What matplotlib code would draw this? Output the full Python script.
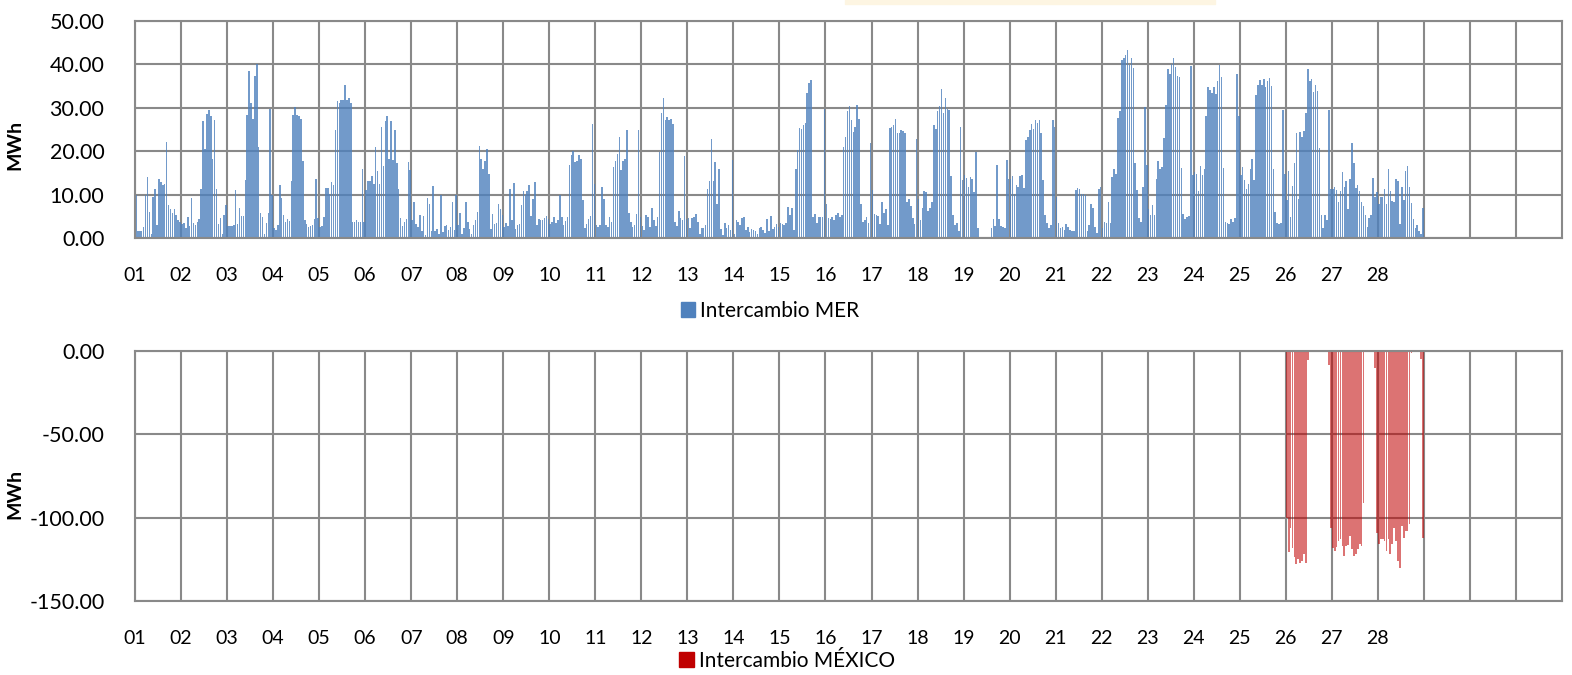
import matplotlib
matplotlib.use("Agg")
import matplotlib.pyplot as plt
from matplotlib.patches import Patch, Rectangle
import numpy as np

plt.rcParams['font.family'] = ['Lato', 'DejaVu Sans']

# Intercambio MER, MWh por hora (24 valores por dia, 01..28)
mer_horas = [
    [9.8, 1.5, 1.5, 1.5, 2.5, 9.8, 14.0, 6.0, 1.0, 9.5, 11.2, 2.9, 13.7, 12.8, 12.2, 12.4, 22.2, 7.5, 6.6, 5.8, 6.6, 5.4, 4.1, 3.8],
    [3.3, 3.5, 2.3, 4.8, 2.8, 9.2, 3.5, 2.9, 3.7, 4.3, 11.4, 27.0, 20.6, 28.6, 29.6, 28.2, 18.2, 27.1, 11.2, 3.3, 4.5, 1.0, 5.2, 7.7],
    [2.8, 2.8, 2.8, 2.9, 11.0, 3.2, 6.9, 5.1, 5.1, 13.4, 28.3, 38.5, 31.1, 27.4, 37.3, 40.0, 21.0, 5.8, 4.8, 1.0, 3.5, 5.8, 29.7, 9.8],
    [2.3, 1.8, 2.9, 12.2, 9.2, 5.4, 3.8, 4.3, 4.0, 13.2, 28.3, 30.2, 28.3, 28.2, 27.4, 17.7, 4.1, 3.3, 2.5, 2.8, 3.1, 4.3, 13.5, 4.6],
    [2.5, 2.8, 4.8, 11.5, 11.5, 10.2, 12.9, 12.3, 24.8, 31.5, 31.0, 31.8, 31.8, 35.2, 31.8, 32.2, 31.2, 3.7, 3.7, 4.2, 3.8, 3.7, 15.8, 3.8],
    [11.0, 13.2, 13.2, 14.2, 12.5, 21.0, 15.4, 12.5, 25.6, 16.6, 27.0, 28.2, 18.2, 27.0, 18.0, 25.0, 17.2, 11.2, 4.6, 2.8, 3.8, 4.3, 17.4, 15.7],
    [4.1, 8.2, 3.3, 2.5, 5.2, 1.5, 5.0, 0.8, 9.2, 7.8, 1.5, 11.9, 1.5, 2.0, 1.0, 9.8, 1.4, 2.8, 3.1, 1.8, 2.6, 8.3, 1.8, 10.0],
    [2.9, 5.8, 1.0, 2.2, 8.2, 3.7, 2.0, 1.0, 2.9, 4.1, 6.0, 21.2, 18.2, 15.8, 17.7, 20.5, 14.8, 2.0, 5.6, 3.3, 3.5, 7.9, 6.6, 5.4],
    [2.5, 3.5, 2.8, 11.2, 4.2, 12.7, 2.0, 3.1, 3.3, 7.5, 10.8, 9.8, 10.8, 12.3, 5.1, 9.1, 12.8, 3.1, 4.3, 4.1, 4.1, 4.6, 5.0, 4.3],
    [3.3, 3.8, 4.9, 3.5, 4.2, 10.0, 4.9, 3.1, 4.0, 4.8, 16.8, 19.1, 20.0, 17.4, 17.7, 19.1, 18.3, 8.7, 2.2, 3.3, 4.3, 5.1, 26.2, 12.5],
    [3.1, 2.5, 2.9, 11.7, 9.1, 3.1, 2.5, 4.8, 3.7, 16.4, 17.7, 19.4, 23.3, 15.6, 17.7, 18.3, 24.8, 5.8, 3.7, 2.5, 3.1, 5.6, 24.8, 4.8],
    [2.8, 1.8, 5.2, 4.8, 2.5, 6.9, 4.1, 2.8, 4.8, 19.8, 28.7, 32.3, 27.2, 27.8, 27.1, 27.5, 26.3, 3.8, 2.8, 6.2, 4.6, 4.1, 18.8, 4.3],
    [4.6, 2.3, 4.6, 4.8, 5.6, 3.8, 1.0, 2.2, 2.2, 2.9, 11.4, 13.1, 22.9, 13.1, 17.5, 7.9, 15.8, 2.0, 0.8, 3.5, 2.3, 2.9, 1.8, 17.9],
    [1.0, 4.1, 3.8, 3.1, 4.5, 4.8, 1.8, 2.5, 1.4, 2.0, 1.8, 1.5, 1.0, 2.2, 2.5, 1.8, 1.2, 4.3, 1.5, 5.0, 2.0, 2.5, 3.3, 2.5],
    [3.5, 3.3, 2.9, 3.4, 7.2, 5.4, 6.9, 1.8, 15.8, 20.2, 25.4, 25.1, 26.0, 26.4, 33.3, 35.8, 36.4, 4.8, 5.6, 3.5, 4.8, 4.8, 4.8, 29.7],
    [7.9, 4.7, 4.3, 4.8, 4.1, 5.2, 5.8, 4.8, 5.2, 21.0, 23.3, 29.2, 30.5, 27.2, 24.5, 25.6, 30.6, 27.5, 7.9, 3.7, 4.1, 4.8, 3.5, 21.9],
    [11.0, 5.6, 5.2, 5.1, 3.3, 8.2, 5.8, 6.6, 3.1, 25.4, 25.6, 26.0, 27.4, 24.1, 24.1, 24.8, 24.6, 24.3, 8.2, 8.9, 7.4, 4.6, 3.3, 22.9],
    [8.9, 4.1, 6.8, 10.8, 10.5, 6.2, 6.9, 8.2, 26.0, 25.1, 29.2, 30.5, 34.3, 28.9, 32.2, 29.7, 29.5, 14.3, 5.2, 3.1, 3.5, 1.5, 25.6, 13.3],
    [14.6, 13.8, 11.8, 14.1, 13.5, 10.6, 19.8, 2.2, 0, 0, 0, 0, 0, 0, 2.2, 4.3, 2.8, 16.8, 4.3, 2.8, 2.5, 2.3, 17.9, 13.7],
    [13.5, 14.2, 10.2, 12.2, 11.8, 14.3, 14.5, 11.5, 22.5, 23.3, 24.8, 26.2, 25.1, 27.2, 26.4, 27.3, 24.1, 13.3, 5.4, 3.5, 2.2, 3.1, 27.2, 25.5],
    [9.5, 3.5, 2.2, 2.5, 1.8, 3.3, 2.5, 1.8, 1.5, 1.5, 11.0, 11.5, 11.2, 10.2, 10.2, 9.8, 1.5, 3.1, 7.9, 6.9, 2.5, 1.2, 11.2, 11.8],
    [2.2, 3.7, 3.5, 8.2, 3.5, 14.1, 15.8, 14.8, 27.7, 29.2, 41.0, 41.5, 42.2, 43.3, 39.8, 41.4, 39.2, 17.2, 11.0, 4.5, 3.7, 11.8, 30.2, 16.8],
    [6.6, 5.2, 7.7, 5.4, 13.7, 17.7, 15.8, 16.4, 23.1, 30.6, 38.9, 37.9, 40.2, 41.4, 39.5, 37.4, 37.2, 16.2, 5.6, 4.3, 4.8, 5.1, 39.7, 14.5],
    [15.1, 14.8, 10.8, 16.6, 14.6, 16.0, 28.2, 34.8, 34.1, 33.5, 34.8, 33.1, 36.2, 39.8, 37.2, 16.2, 3.8, 3.5, 3.3, 4.3, 3.8, 4.5, 37.7, 28.2],
    [14.6, 16.4, 13.3, 11.4, 12.5, 15.8, 18.1, 13.3, 32.9, 35.2, 36.4, 35.2, 36.6, 34.8, 36.2, 36.8, 35.1, 15.8, 6.0, 3.5, 3.3, 3.5, 29.5, 14.8],
    [8.7, 15.4, 4.8, 12.0, 17.2, 24.3, 9.1, 24.5, 23.3, 24.6, 28.9, 38.9, 36.2, 36.6, 33.7, 35.2, 33.8, 20.8, 5.4, 2.2, 5.2, 4.1, 29.5, 11.4],
    [11.4, 11.8, 11.0, 8.3, 10.8, 15.2, 11.8, 13.1, 6.6, 13.7, 21.8, 17.2, 11.5, 12.3, 10.8, 8.3, 7.4, 5.4, 2.5, 4.6, 5.4, 13.8, 9.5, 10.6],
    [7.9, 9.5, 9.5, 11.4, 7.9, 15.8, 10.8, 8.5, 8.3, 13.5, 13.1, 3.3, 11.8, 8.7, 15.4, 16.6, 11.8, 8.0, 4.3, 2.3, 2.9, 1.5, 1.0, 6.8],
]

# Intercambio MEXICO, MWh por hora: dias 01..25 sin intercambio
mexico_dias_sin = 25
mexico_dia26 = [-100, -120.5, -106, -118, -123.7, -128, -124.5, -127, -126, -122, -127, -5.6,
                0, 0, 0, 0, 0, 0, 0, 0, 0, 0, -8.4, -106]
mexico_dia27 = [-118, -120, -117.5, -114, -113, -117, -123, -117, -116.5, -111, -119, -123,
                -122, -119, -116, -117, -91, 0, 0, 0, 0, 0, -10, -109]
mexico_dia28 = [-116, -113, -113, -114, -120, -113, -122, -116, -106, -114, -126, -130,
                -105, -112, -108, -108, -104, -1, 0, 0, 0, 0, -5, -112]

dias_mes = 31
etiquetas = ['%02d' % d for d in range(1, 29)]

mer = np.array(mer_horas).ravel()
mexico = np.concatenate([np.zeros(mexico_dias_sin * 24), mexico_dia26, mexico_dia27, mexico_dia28])

azul = '#4F81BD'
rojo = '#C00000'
gris = '#898989'

fig = plt.figure(figsize=(15.72, 6.75), dpi=100)
ax1 = fig.add_axes([135 / 1572, 1 - 238 / 675, 1427 / 1572, 217 / 675])
ax2 = fig.add_axes([135 / 1572, 1 - 601 / 675, 1427 / 1572, 250 / 675])

# franja del cuadro de titulo recortado
fig.patches.append(Rectangle((845 / 1572, 1 - 4 / 675), 370 / 1572, 4 / 675,
                             transform=fig.transFigure, color='#FDF5E2', zorder=0))

def formato(ax, ylim, ystep):
    ax.set_xlim(0, dias_mes * 24)
    ax.set_ylim(*ylim)
    ax.set_yticks(np.arange(ylim[0], ylim[1] + 1, ystep))
    ax.set_yticklabels(['%.2f' % v for v in np.arange(ylim[0], ylim[1] + 1, ystep)], fontsize=15.5)
    ticks = np.arange(0, dias_mes * 24, 24)
    ax.set_xticks(ticks)
    ax.set_xticklabels(etiquetas + [''] * (len(ticks) - len(etiquetas)), fontsize=14)
    ax.set_axisbelow(True)
    ax.grid(True, color=gris, linewidth=1.5)
    for s in ax.spines.values():
        s.set_color(gris)
        s.set_linewidth(1.5)
    ax.tick_params(length=0)
    ax.tick_params(axis='x', pad=21)
    ax.tick_params(axis='y', pad=22)
    ax.set_ylabel('MWh', fontsize=14, fontweight='bold')
    ax.yaxis.set_label_coords(-0.078, 0.43)

x = np.arange(len(mer)) + 0.5
ax1.bar(x, mer, width=0.8, color=azul, alpha=0.8, linewidth=0)
formato(ax1, (0, 50), 10)

xm = np.arange(len(mexico)) + 0.5
ax2.bar(xm, mexico, width=0.9, color=rojo, alpha=0.55, linewidth=0)
formato(ax2, (-150, 0), 50)

fig.legend(handles=[Patch(color=azul)], labels=['Intercambio MER'], loc='center',
           bbox_to_anchor=(770 / 1572, 1 - 311 / 675), frameon=False, fontsize=15,
           handlelength=0.7, handleheight=0.7, handletextpad=0.25)
fig.legend(handles=[Patch(color=rojo)], labels=['Intercambio MÉXICO'], loc='center',
           bbox_to_anchor=(787 / 1572, 1 - 661 / 675), frameon=False, fontsize=15,
           handlelength=0.7, handleheight=0.7, handletextpad=0.25)

fig.savefig('out.png', dpi=100)
